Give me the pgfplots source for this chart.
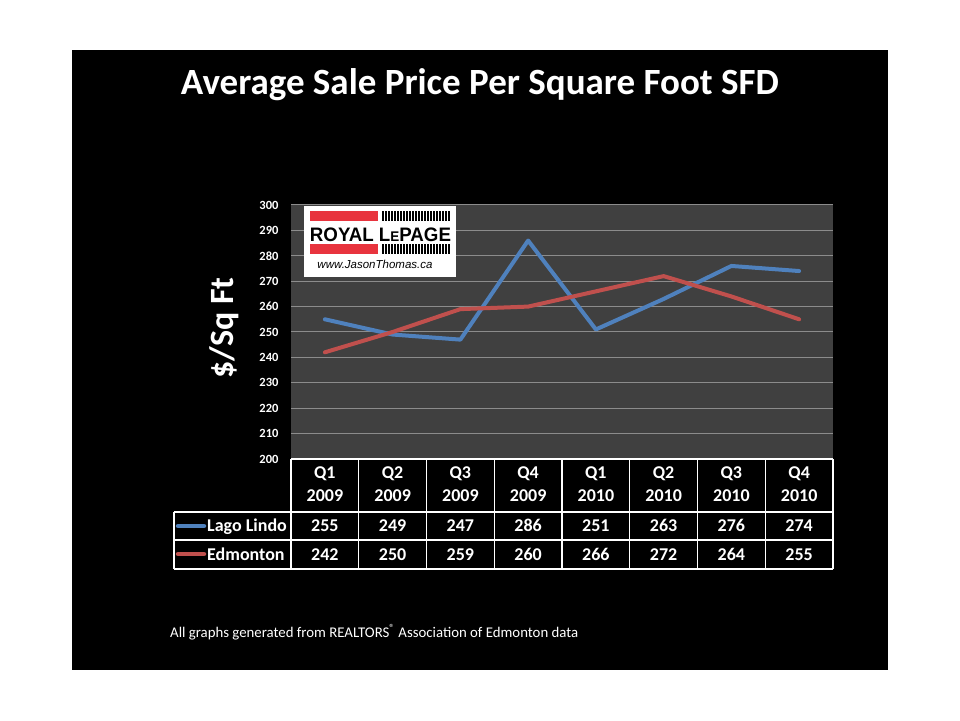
\documentclass[border=0pt]{standalone}
\usepackage{fontspec}
\setmainfont{Carlito}
\newfontfamily\logofont{Liberation Sans}
\usepackage{pgfplots}
\usepackage{pgfplotstable}
\pgfplotsset{compat=1.18}
\definecolor{panel}{RGB}{64,64,64}
\definecolor{gridc}{RGB}{140,140,140}
\definecolor{lago}{RGB}{79,129,189}
\definecolor{edm}{RGB}{192,80,77}
\definecolor{lpred}{RGB}{232,52,62}
\newcommand\tabfont{\fontsize{18}{22}\selectfont\bfseries}

% quarter index, Lago Lindo, Edmonton ($/sq ft)
\pgfplotstableread{
q lago edm
1 255 242
2 249 250
3 247 259
4 286 260
5 251 266
6 263 272
7 276 264
8 274 255
}\pricedata

\begin{document}
\begin{tikzpicture}[x=1pt,y=1pt]
\fill[white] (0,0) rectangle (960,720);
\useasboundingbox (0,0) rectangle (960,720);
\fill[black] (72,50) rectangle (888,670);

\node[anchor=base, text=white, font=\fontsize{37}{42}\selectfont\bfseries]
  at (480,625) {Average Sale Price Per Square Foot SFD};
\node[rotate=90, text=white, font=\fontsize{34}{40}\selectfont\bfseries]
  at (224,392) {\$/Sq Ft};

\begin{axis}[
  at={(291pt,261pt)}, anchor=south west,
  scale only axis, width=542pt, height=254pt,
  xmin=0.5, xmax=8.5, ymin=200, ymax=300,
  xtick=\empty,
  ytick={200,210,...,300},
  ymajorgrids,
  grid style={gridc, line width=1pt},
  axis background/.style={fill=panel},
  axis line style={draw=none},
  major tick length=0pt,
  yticklabel style={text=white, font=\fontsize{12.5}{14}\selectfont\bfseries, xshift=-9pt},
  /pgf/number format/assume math mode=true,
]
\addplot[lago, line width=4pt, line join=round, line cap=round] table[x=q, y=lago] {\pricedata};
\addplot[edm, line width=4pt, line join=round, line cap=round] table[x=q, y=edm] {\pricedata};
\end{axis}

% data table under the plot
\begin{scope}[white, line width=1.3pt]
  \draw (291,261) -- (833,261);
  \draw (174,208) -- (833,208);
  \draw (174,180) -- (833,180);
  \draw (174,151) -- (833,151);
  \draw (174,208) -- (174,151);
  \foreach \k in {0,...,8} {
    \draw ({291+\k*67.75},261) -- ({291+\k*67.75},151);
  }
\end{scope}
\foreach \q/\yr [count=\i] in {Q1/2009,Q2/2009,Q3/2009,Q4/2009,Q1/2010,Q2/2010,Q3/2010,Q4/2010} {
  \node[anchor=base, text=white, font=\tabfont] at ({291+(\i-0.5)*67.75},241) {\q};
  \node[anchor=base, text=white, font=\tabfont] at ({291+(\i-0.5)*67.75},218) {\yr};
}
\foreach \i in {0,...,7} {
  \pgfmathsetmacro\cx{291+(\i+0.5)*67.75}
  \pgfplotstablegetelem{\i}{lago}\of\pricedata
  \node[anchor=base, text=white, font=\tabfont] at (\cx,188) {\pgfplotsretval};
  \pgfplotstablegetelem{\i}{edm}\of\pricedata
  \node[anchor=base, text=white, font=\tabfont] at (\cx,159) {\pgfplotsretval};
}
\draw[lago, line width=4.5pt, line cap=round] (178,194) -- (204,194);
\draw[edm, line width=4.5pt, line cap=round] (178,166) -- (204,166);
\node[anchor=base west, inner sep=0, text=white, font=\tabfont] at (207,188) {Lago Lindo};
\node[anchor=base west, inner sep=0, text=white, font=\tabfont] at (207,159) {Edmonton};

% logo
\fill[white] (304,443) rectangle (456,514);
\fill[lpred] (310,499) rectangle (378,509);
\fill[lpred] (310,466) rectangle (378,476);
\foreach \s in {0,...,22} {
  \draw[black, line width=1.4pt] ({383+\s*3},499) -- ({383+\s*3},509);
  \draw[black, line width=1.4pt] ({383+\s*3},466) -- ({383+\s*3},476);
}
\node[anchor=base, inner sep=0, xscale=0.96, font=\logofont\fontsize{19.5}{22}\selectfont\bfseries]
  at (380.5,478) {ROYAL L{\fontsize{14}{16}\selectfont E}PAGE};
\node[anchor=base, inner sep=0, font=\logofont\fontsize{11.5}{13}\selectfont\itshape]
  at (375,451) {www.JasonThomas.ca};

\node[anchor=base west, inner sep=0, text=white, font=\fontsize{14.8}{17}\selectfont]
  at (170,83) {All graphs generated from REALTORS\textsuperscript{®} Association of Edmonton data};
\end{tikzpicture}
\end{document}
